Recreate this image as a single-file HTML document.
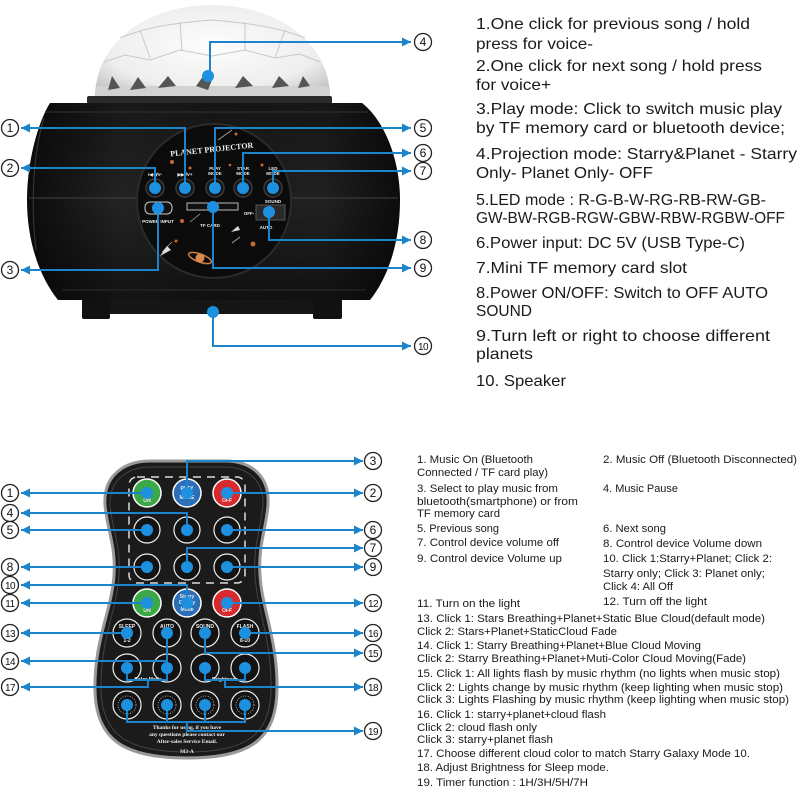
<!DOCTYPE html>
<html><head><meta charset="utf-8"><style>
html,body{margin:0;padding:0;background:#fff;width:800px;height:800px;overflow:hidden}
svg{display:block}
.t16{font-family:"Liberation Sans",sans-serif;font-size:16px;fill:#1a1a1a}
.t11{font-family:"Liberation Sans",sans-serif;font-size:11px;fill:#1a1a1a}
.n{font-family:"Liberation Sans",sans-serif;font-size:12px;fill:#111;text-anchor:middle}
.n2{font-family:"Liberation Sans",sans-serif;font-size:10px;fill:#111;text-anchor:middle;letter-spacing:-0.5px}
.lbl{font-family:"Liberation Sans",sans-serif;font-weight:bold;fill:#eee;text-anchor:middle}
.co{fill:none;stroke:#1c84cc;stroke-width:2}
.dot{fill:#1e90e0}
.cn{fill:#fff;stroke:#222;stroke-width:1.3}
</style></head><body>
<svg width="800" height="800" viewBox="0 0 800 800" xmlns="http://www.w3.org/2000/svg">
<defs>
<marker id="a" markerUnits="userSpaceOnUse" markerWidth="9" markerHeight="9" refX="9" refY="4.5" orient="auto"><path d="M0,0 L9,4.5 L0,9 z" fill="#1c84cc"/></marker>
<radialGradient id="dome" cx="0.5" cy="0.45" r="0.65"><stop offset="0" stop-color="#fdfdfd"/><stop offset="0.7" stop-color="#eeeeee"/><stop offset="1" stop-color="#c4c4c4"/></radialGradient>
<linearGradient id="body" x1="0" y1="0" x2="1" y2="0"><stop offset="0" stop-color="#0c0c0c"/><stop offset="0.25" stop-color="#232323"/><stop offset="0.5" stop-color="#1e1e1e"/><stop offset="0.8" stop-color="#202020"/><stop offset="1" stop-color="#0c0c0c"/></linearGradient>
<linearGradient id="bodyv" x1="0" y1="0" x2="0" y2="1"><stop offset="0" stop-color="#000" stop-opacity="0.3"/><stop offset="0.5" stop-color="#000" stop-opacity="0"/><stop offset="1" stop-color="#000" stop-opacity="0.45"/></linearGradient>
</defs>

<!-- ===== DEVICE ===== -->
<path d="M95,98 C95,40 150,5 212,5 C274,5 330,40 330,98 Z" fill="url(#dome)"/>
<g fill="none" stroke="#c8c8c8" stroke-width="1">
<path d="M120,38 C140,30 160,24 212,20 C262,24 285,30 305,38"/>
<path d="M104,62 L125,55 L150,60 L180,50 L212,56 L245,50 L275,58 L300,54 L320,62"/>
<path d="M140,30 L150,58 M180,22 L182,50 M245,22 L245,50 M285,30 L275,58"/>
</g>
<path d="M97,86 L328,86 L330,98 L95,98 Z" fill="#d2d2d2"/>
<g fill="#555">
<path d="M108,90 L112,76 L120,88 Z"/>
<path d="M130,90 L138,77 L146,88 Z"/>
<path d="M158,88 L168,76 L176,86 Z"/>
<path d="M196,86 L204,75 L212,80 L208,90 Z"/>
<path d="M235,88 L243,76 L253,86 Z"/>
<path d="M272,88 L279,76 L289,86 Z"/>
<path d="M298,88 L303,76 L310,86 Z"/>
</g>
<rect x="87" y="96" width="245" height="8" rx="2" fill="#2a2a2a"/>
<path d="M50,103 L362,103 C386,122 400,162 400,200 C400,246 386,280 370,300 L58,300 C42,280 27,246 27,200 C27,162 38,122 50,103 Z" fill="url(#body)"/>
<path d="M50,103 L362,103 C386,122 400,162 400,200 C400,246 386,280 370,300 L58,300 C42,280 27,246 27,200 C27,162 38,122 50,103 Z" fill="url(#bodyv)"/>
<path d="M45,112 L368,112" stroke="#333" stroke-width="1"/>
<path d="M29,198 L398,198" stroke="#3a3a3a" stroke-width="1.2"/>
<path d="M44,118 C34,150 30,200 36,250" stroke="#3a3a3a" fill="none" stroke-width="1"/>
<path d="M62,290 L366,290" stroke="#2c2c2c" stroke-width="1"/>
<rect x="82" y="300" width="260" height="14" fill="#161616"/>
<rect x="82" y="300" width="28" height="19" rx="2" fill="#111"/>
<rect x="313" y="300" width="29" height="19" rx="2" fill="#111"/>
<!-- panel -->
<circle cx="214" cy="201" r="77" fill="#0b0b0b" stroke="#2b2b2b" stroke-width="2"/>
<text x="212" y="152" class="lbl" font-size="8" transform="rotate(-6 212 152)" style="font-family:'Liberation Serif',serif">PLANET PROJECTOR</text>
<g fill="#c8672e">
<circle cx="172" cy="162" r="2"/><circle cx="190" cy="168" r="1.5"/><circle cx="236" cy="134" r="1.5"/><circle cx="182" cy="221" r="2"/><circle cx="253" cy="244" r="2.5"/><circle cx="176" cy="241" r="1.5"/><circle cx="230" cy="165" r="1.3"/><circle cx="262" cy="165" r="1.5"/>
</g>
<path d="M162,252 L172,242 M240,237 L232,243 M218,140 L232,130 M200,214 L190,222" stroke="#aaa" stroke-width="0.8"/>
<ellipse cx="200" cy="258" rx="12" ry="4" fill="none" stroke="#d08040" stroke-width="1.5" transform="rotate(20 200 258)"/>
<circle cx="200" cy="258" r="4.5" fill="#d88a50"/>
<path d="M160,256 L167,246 L171,250 Z" fill="#ddd"/>
<path d="M231,232 L238,226 L240,230 Z" fill="#ddd"/>
<g class="lbl" font-size="4.5">
<text x="155" y="176">I◀◀/V-</text><text x="185" y="176">▶▶I/V+</text>
<text x="215" y="170">PLAY</text><text x="215" y="175">MODE</text>
<text x="243" y="170">STAR</text><text x="243" y="175">MODE</text>
<text x="273" y="170">LED</text><text x="273" y="175">MODE</text>
<text x="158" y="223">POWER INPUT</text><text x="210" y="227">TF CARD</text>
<text x="249" y="215">OFF-</text><text x="273" y="203">SOUND</text><text x="266" y="229">AUTO</text>
</g>
<g fill="#151515" stroke="#3a3a3a" stroke-width="1.5">
<circle cx="155" cy="188" r="9"/><circle cx="185" cy="188" r="9"/><circle cx="215" cy="188" r="9"/><circle cx="243" cy="188" r="9"/><circle cx="273" cy="188" r="9"/>
</g>
<rect x="145" y="202" width="27" height="12" rx="5" fill="#111" stroke="#ccc" stroke-width="1"/>
<rect x="187" y="203" width="51" height="7" fill="#111" stroke="#bbb" stroke-width="1"/>
<rect x="256" y="205" width="29" height="15" fill="#2a2a2a" stroke="#555"/>

<!-- device callouts -->
<g class="co" marker-end="url(#a)">
<path d="M210,76 V42 H411"/>
<path d="M185,188 V128 H21"/>
<path d="M155,188 V168 H21"/>
<path d="M158,208 V270 H21"/>
<path d="M215,188 V128 H411"/>
<path d="M243,188 V153 H411"/>
<path d="M273,188 V171 H411"/>
<path d="M269,212 V240 H411"/>
<path d="M213,207 V268 H411"/>
<path d="M213,312 V346 H411"/>
</g>
<g class="dot">
<circle cx="208" cy="76" r="6"/><circle cx="155" cy="188" r="6"/><circle cx="185" cy="188" r="6"/><circle cx="215" cy="188" r="6"/><circle cx="243" cy="188" r="6"/><circle cx="273" cy="188" r="6"/><circle cx="158" cy="208" r="6"/><circle cx="213" cy="207" r="6"/><circle cx="269" cy="212" r="6"/><circle cx="213" cy="312" r="6"/>
</g>
<g>
<circle class="cn" cx="10" cy="128" r="8.5"/><text class="n" x="10" y="132">1</text>
<circle class="cn" cx="10" cy="168" r="8.5"/><text class="n" x="10" y="172">2</text>
<circle class="cn" cx="10" cy="270" r="8.5"/><text class="n" x="10" y="274">3</text>
<circle class="cn" cx="423" cy="42" r="8.5"/><text class="n" x="423" y="46">4</text>
<circle class="cn" cx="423" cy="128" r="8.5"/><text class="n" x="423" y="132">5</text>
<circle class="cn" cx="423" cy="153" r="8.5"/><text class="n" x="423" y="157">6</text>
<circle class="cn" cx="423" cy="171" r="8.5"/><text class="n" x="423" y="175">7</text>
<circle class="cn" cx="423" cy="240" r="8.5"/><text class="n" x="423" y="244">8</text>
<circle class="cn" cx="423" cy="268" r="8.5"/><text class="n" x="423" y="272">9</text>
<circle class="cn" cx="423" cy="346" r="8.5"/><text class="n2" x="423" y="350">10</text>
</g>

<!-- top right text -->
<g class="t16">
<text x="476" y="29" textLength="274" lengthAdjust="spacingAndGlyphs">1.One click for previous song / hold</text>
<text x="476" y="49" textLength="117" lengthAdjust="spacingAndGlyphs">press for voice-</text>
<text x="476" y="71" textLength="286" lengthAdjust="spacingAndGlyphs">2.One click for next song / hold press</text>
<text x="476" y="90" textLength="75" lengthAdjust="spacingAndGlyphs">for voice+</text>
<text x="476" y="114" textLength="306" lengthAdjust="spacingAndGlyphs">3.Play mode: Click to switch music play</text>
<text x="476" y="133" textLength="309" lengthAdjust="spacingAndGlyphs">by TF memory card or bluetooth device;</text>
<text x="476" y="159" textLength="321" lengthAdjust="spacingAndGlyphs">4.Projection mode: Starry&amp;Planet - Starry</text>
<text x="476" y="178" textLength="177" lengthAdjust="spacingAndGlyphs">Only- Planet Only- OFF</text>
<text x="476" y="205" textLength="290" lengthAdjust="spacingAndGlyphs">5.LED mode : R-G-B-W-RG-RB-RW-GB-</text>
<text x="476" y="223" textLength="309" lengthAdjust="spacingAndGlyphs">GW-BW-RGB-RGW-GBW-RBW-RGBW-OFF</text>
<text x="476" y="248" textLength="269" lengthAdjust="spacingAndGlyphs">6.Power input: DC 5V (USB Type-C)</text>
<text x="476" y="273" textLength="211" lengthAdjust="spacingAndGlyphs">7.Mini TF memory card slot</text>
<text x="476" y="298" textLength="292" lengthAdjust="spacingAndGlyphs">8.Power ON/OFF: Switch to OFF AUTO</text>
<text x="476" y="316" textLength="56" lengthAdjust="spacingAndGlyphs">SOUND</text>
<text x="476" y="341" textLength="294" lengthAdjust="spacingAndGlyphs">9.Turn left or right to choose different</text>
<text x="476" y="359" textLength="57" lengthAdjust="spacingAndGlyphs">planets</text>
<text x="476" y="386" textLength="90" lengthAdjust="spacingAndGlyphs">10. Speaker</text>
</g>

<!-- ===== REMOTE ===== -->
<path d="M105,505 C103,475 125,461 150,461 L225,461 C250,461 270,475 268,505 C266,530 258,545 260,575 C262,610 278,640 277,690 C276,740 250,758 187,758 C124,758 96,740 95,690 C94,640 112,610 114,575 C116,545 107,530 105,505 Z" fill="#1b1b1b" stroke="#9a9a9a" stroke-width="3"/>
<path d="M110,505 C109,480 128,467 150,467 L225,467 C247,467 264,480 263,505 C261,530 253,545 255,575 C257,610 272,640 271,690 C270,735 246,752 187,752 C128,752 102,735 101,690 C100,640 117,610 119,575 C121,545 112,530 110,505 Z" fill="none" stroke="#444" stroke-width="1"/>
<rect x="129" y="477" width="116" height="106" rx="8" fill="none" stroke="#ddd" stroke-width="1.5" stroke-dasharray="8 6"/>
<g stroke="#fff" stroke-width="1.5">
<circle cx="147" cy="493" r="14" fill="#3da847"/><circle cx="187" cy="493" r="14" fill="#2b6fb8"/><circle cx="227" cy="493" r="14" fill="#d62a2e"/>
<circle cx="147" cy="603" r="14" fill="#3da847"/><circle cx="187" cy="603" r="14" fill="#2b6fb8"/><circle cx="227" cy="603" r="14" fill="#d62a2e"/>
</g>
<g fill="#131313" stroke="#eee" stroke-width="1.2">
<circle cx="147" cy="530" r="13"/><circle cx="187" cy="530" r="13"/><circle cx="227" cy="530" r="13"/>
<circle cx="147" cy="567" r="13"/><circle cx="187" cy="567" r="13"/><circle cx="227" cy="567" r="13"/>
<circle cx="127" cy="633" r="14"/><circle cx="167" cy="633" r="14"/><circle cx="205" cy="633" r="14"/><circle cx="245" cy="633" r="14"/>
<circle cx="127" cy="668" r="14"/><circle cx="167" cy="668" r="14"/><circle cx="205" cy="668" r="14"/><circle cx="245" cy="668" r="14"/>
<circle cx="127" cy="705" r="14"/><circle cx="167" cy="705" r="14"/><circle cx="205" cy="705" r="14"/><circle cx="245" cy="705" r="14"/>
</g>
<g fill="none" stroke="#ccc" stroke-width="0.8" stroke-dasharray="1 1.5">
<circle cx="127" cy="705" r="9"/><circle cx="167" cy="705" r="9"/><circle cx="205" cy="705" r="9"/><circle cx="245" cy="705" r="9"/>
</g>
<g class="lbl" font-size="5">
<text x="147" y="502">ON</text><text x="227" y="502">OFF</text><text x="187" y="490">PLAY</text><text x="187" y="499">MODE</text>
<text x="147" y="612">ON</text><text x="227" y="612">OFF</text><text x="187" y="598">Starry</text><text x="187" y="604">Galaxy</text><text x="187" y="611">Mode</text>
<text x="127" y="628">SLEEP</text><text x="127" y="642">1-2</text><text x="167" y="628">AUTO</text><text x="205" y="628">SOUND</text><text x="245" y="628">FLASH</text><text x="245" y="642">8-10</text>
<text x="148" y="681">Color Mode</text><text x="225" y="681">Brightness</text>
</g>
<g font-family="Liberation Serif,serif" font-weight="bold" font-size="5.5" fill="#eee" text-anchor="middle">
<text x="187" y="729">Thanks for using, if you have</text>
<text x="187" y="736">any questions please contact our</text>
<text x="187" y="743">After-sales Service Email.</text>
<text x="187" y="753">M3-A</text>
</g>
<!-- remote callouts -->
<g class="co">
<path d="M127,668 V680 H167 V668"/>
<path d="M205,668 V680 H245 V668"/>
<path d="M127,705 V722 H245 V705 M167,705 V722 M205,705 V722"/>
</g>
<g class="co" marker-end="url(#a)">
<path d="M187,493 V461 H363"/>
<path d="M147,493 H21"/>
<path d="M227,493 H363"/>
<path d="M187,530 V513 H21"/>
<path d="M147,530 H21"/>
<path d="M227,530 H363"/>
<path d="M187,567 V548 H363"/>
<path d="M147,567 H21"/>
<path d="M227,567 H363"/>
<path d="M187,603 V585 H21"/>
<path d="M147,603 H21"/>
<path d="M227,603 H363"/>
<path d="M127,633 H21"/>
<path d="M245,633 H363"/>
<path d="M167,633 V661 H21"/>
<path d="M205,633 V653 H363"/>
<path d="M148,680 V687 H21"/>
<path d="M225,680 V687 H363"/>
<path d="M187,722 V731 H363"/>
</g>
<g class="dot">
<circle cx="147" cy="493" r="6"/><circle cx="187" cy="493" r="6"/><circle cx="227" cy="493" r="6"/>
<circle cx="147" cy="530" r="6"/><circle cx="187" cy="530" r="6"/><circle cx="227" cy="530" r="6"/>
<circle cx="147" cy="567" r="6"/><circle cx="187" cy="567" r="6"/><circle cx="227" cy="567" r="6"/>
<circle cx="147" cy="603" r="6"/><circle cx="187" cy="603" r="6"/><circle cx="227" cy="603" r="6"/>
<circle cx="127" cy="633" r="6"/><circle cx="167" cy="633" r="6"/><circle cx="205" cy="633" r="6"/><circle cx="245" cy="633" r="6"/>
<circle cx="127" cy="668" r="6"/><circle cx="167" cy="668" r="6"/><circle cx="205" cy="668" r="6"/><circle cx="245" cy="668" r="6"/>
<circle cx="127" cy="705" r="6"/><circle cx="167" cy="705" r="6"/><circle cx="205" cy="705" r="6"/><circle cx="245" cy="705" r="6"/>
</g>
<g>
<circle class="cn" cx="10" cy="493" r="8.5"/><text class="n" x="10" y="497">1</text>
<circle class="cn" cx="10" cy="513" r="8.5"/><text class="n" x="10" y="517">4</text>
<circle class="cn" cx="10" cy="530" r="8.5"/><text class="n" x="10" y="534">5</text>
<circle class="cn" cx="10" cy="567" r="8.5"/><text class="n" x="10" y="571">8</text>
<circle class="cn" cx="10" cy="585" r="8.5"/><text class="n2" x="10" y="589">10</text>
<circle class="cn" cx="10" cy="603" r="8.5"/><text class="n2" x="10" y="607">11</text>
<circle class="cn" cx="10" cy="633" r="8.5"/><text class="n2" x="10" y="637">13</text>
<circle class="cn" cx="10" cy="661" r="8.5"/><text class="n2" x="10" y="665">14</text>
<circle class="cn" cx="10" cy="687" r="8.5"/><text class="n2" x="10" y="691">17</text>
<circle class="cn" cx="373" cy="461" r="8.5"/><text class="n" x="373" y="465">3</text>
<circle class="cn" cx="373" cy="493" r="8.5"/><text class="n" x="373" y="497">2</text>
<circle class="cn" cx="373" cy="530" r="8.5"/><text class="n" x="373" y="534">6</text>
<circle class="cn" cx="373" cy="548" r="8.5"/><text class="n" x="373" y="552">7</text>
<circle class="cn" cx="373" cy="567" r="8.5"/><text class="n" x="373" y="571">9</text>
<circle class="cn" cx="373" cy="603" r="8.5"/><text class="n2" x="373" y="607">12</text>
<circle class="cn" cx="373" cy="633" r="8.5"/><text class="n2" x="373" y="637">16</text>
<circle class="cn" cx="373" cy="653" r="8.5"/><text class="n2" x="373" y="657">15</text>
<circle class="cn" cx="373" cy="687" r="8.5"/><text class="n2" x="373" y="691">18</text>
<circle class="cn" cx="373" cy="731" r="8.5"/><text class="n2" x="373" y="735">19</text>
</g>

<!-- bottom right text -->
<g class="t11">
<text x="417" y="463" textLength="116" lengthAdjust="spacingAndGlyphs">1. Music On (Bluetooth</text>
<text x="417" y="476" textLength="131" lengthAdjust="spacingAndGlyphs">Connected / TF card play)</text>
<text x="417" y="492" textLength="141" lengthAdjust="spacingAndGlyphs">3. Select to play music from</text>
<text x="417" y="505" textLength="161" lengthAdjust="spacingAndGlyphs">bluetooth(smartphone) or from</text>
<text x="417" y="517" textLength="83" lengthAdjust="spacingAndGlyphs">TF memory card</text>
<text x="417" y="532" textLength="82" lengthAdjust="spacingAndGlyphs">5. Previous song</text>
<text x="417" y="546" textLength="142" lengthAdjust="spacingAndGlyphs">7. Control device volume off</text>
<text x="417" y="562" textLength="145" lengthAdjust="spacingAndGlyphs">9. Control device Volume up</text>
<text x="417" y="607" textLength="103" lengthAdjust="spacingAndGlyphs">11. Turn on the light</text>
<text x="603" y="463" textLength="194" lengthAdjust="spacingAndGlyphs">2. Music Off (Bluetooth Disconnected)</text>
<text x="603" y="492" textLength="75" lengthAdjust="spacingAndGlyphs">4. Music Pause</text>
<text x="603" y="532" textLength="63" lengthAdjust="spacingAndGlyphs">6. Next song</text>
<text x="603" y="547" textLength="159" lengthAdjust="spacingAndGlyphs">8. Control device Volume down</text>
<text x="603" y="562" textLength="169" lengthAdjust="spacingAndGlyphs">10. Click 1:Starry+Planet; Click 2:</text>
<text x="603" y="577" textLength="162" lengthAdjust="spacingAndGlyphs">Starry only; Click 3: Planet only;</text>
<text x="603" y="590" textLength="70" lengthAdjust="spacingAndGlyphs">Click 4: All Off</text>
<text x="603" y="605" textLength="104" lengthAdjust="spacingAndGlyphs">12. Turn off the light</text>
<text x="417" y="622" textLength="348" lengthAdjust="spacingAndGlyphs">13. Click 1: Stars Breathing+Planet+Static Blue Cloud(default mode)</text>
<text x="417" y="635" textLength="200" lengthAdjust="spacingAndGlyphs">Click 2: Stars+Planet+StaticCloud Fade</text>
<text x="417" y="649" textLength="284" lengthAdjust="spacingAndGlyphs">14. Click 1: Starry Breathing+Planet+Blue Cloud Moving</text>
<text x="417" y="662" textLength="329" lengthAdjust="spacingAndGlyphs">Click 2: Starry Breathing+Planet+Muti-Color Cloud Moving(Fade)</text>
<text x="417" y="677" textLength="363" lengthAdjust="spacingAndGlyphs">15. Click 1: All lights flash by music rhythm (no lights when music stop)</text>
<text x="417" y="691" textLength="366" lengthAdjust="spacingAndGlyphs">Click 2: Lights change by music rhythm (keep lighting when music stop)</text>
<text x="417" y="703" textLength="372" lengthAdjust="spacingAndGlyphs">Click 3: Lights Flashing by music rhythm (keep lighting when music stop)</text>
<text x="417" y="718" textLength="189" lengthAdjust="spacingAndGlyphs">16. Click 1: starry+planet+cloud flash</text>
<text x="417" y="731" textLength="120" lengthAdjust="spacingAndGlyphs">Click 2: cloud flash only</text>
<text x="417" y="743" textLength="136" lengthAdjust="spacingAndGlyphs">Click 3: starry+planet flash</text>
<text x="417" y="757" textLength="333" lengthAdjust="spacingAndGlyphs">17. Choose different cloud color to match Starry Galaxy Mode 10.</text>
<text x="417" y="771" textLength="192" lengthAdjust="spacingAndGlyphs">18. Adjust Brightness for Sleep mode.</text>
<text x="417" y="786" textLength="171" lengthAdjust="spacingAndGlyphs">19. Timer function : 1H/3H/5H/7H</text>
</g>
</svg>
</body></html>
